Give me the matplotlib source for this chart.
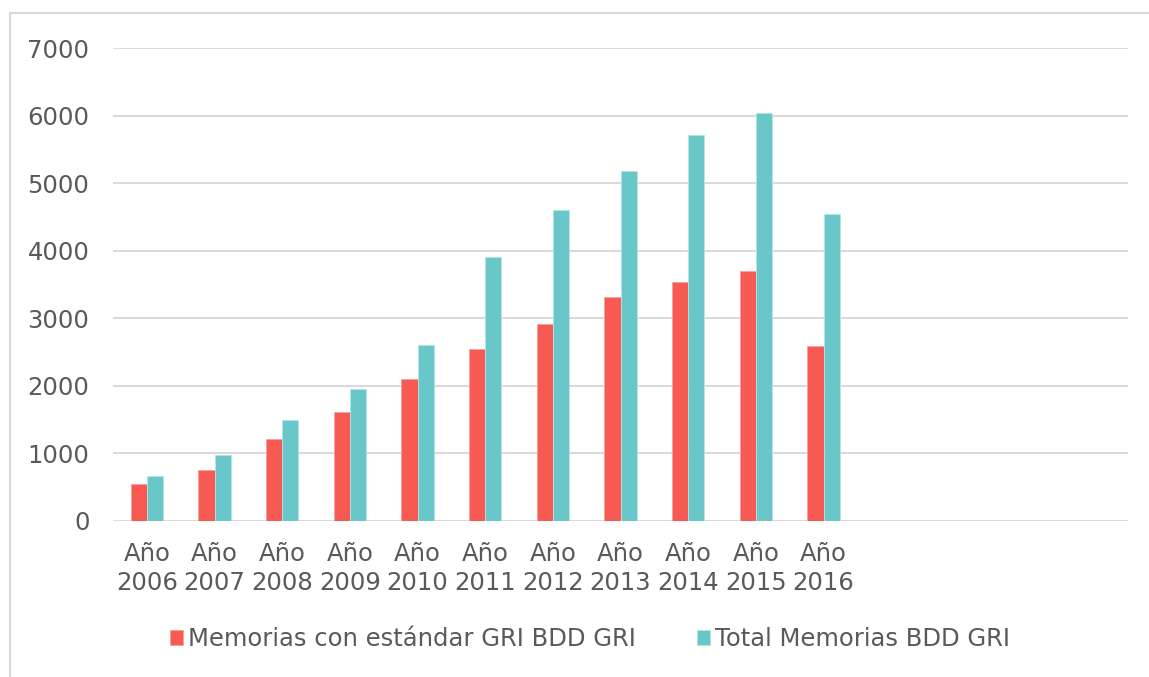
import numpy as np
import matplotlib
matplotlib.use("Agg")
import matplotlib.pyplot as plt
from matplotlib.lines import Line2D

years = ["2006", "2007", "2008", "2009", "2010", "2011",
         "2012", "2013", "2014", "2015", "2016"]
tick_labels = ["Año\n" + y for y in years]
gri_standard = [543, 755, 1214, 1618, 2101, 2545, 2915, 3315, 3532, 3695, 2594]
total_reports = [670, 977, 1490, 1949, 2605, 3907, 4605, 5175, 5708, 6034, 4548]
series_names = ["Memorias con estándar GRI BDD GRI", "Total Memorias BDD GRI"]
n_slots = 15  # the category axis keeps room for empty years

RED = "#F65A53"
TEAL = "#69C7C9"
TEXT = "#595959"
GRID = "#D9D9D9"
FS = 17.5

plt.rcParams["font.family"] = ["DejaVu Sans"]

W, H = 1149, 677
fig = plt.figure(figsize=(W / 100, H / 100), dpi=100)
ax = fig.add_axes([113 / W, 1 - 521 / H, (1128 - 113) / W, (521 - 48) / H])

x = np.arange(len(years))
bw = 0.24
ax.bar(x - bw / 2, gri_standard, bw, color=RED, edgecolor="#F8A09B",
       linewidth=0.6, label=series_names[0], zorder=3)
ax.bar(x + bw / 2, total_reports, bw, color=TEAL, edgecolor="#B5E6E6",
       linewidth=0.6, label=series_names[1], zorder=3)

ax.set_xlim(-0.5, n_slots - 0.5)
ax.set_ylim(0, 7000)
ax.set_yticks(np.arange(0, 7001, 1000))
ax.set_xticks(x)
ax.set_xticklabels(tick_labels, linespacing=1.25)
ax.yaxis.grid(True, color=GRID, linewidth=1.4, zorder=0)
ax.set_axisbelow(True)
for s in ax.spines.values():
    s.set_visible(False)
ax.tick_params(axis="both", length=0, labelsize=FS, labelcolor=TEXT)
ax.tick_params(axis="y", pad=17)
ax.tick_params(axis="x", pad=15)

leg = fig.legend(loc="center", bbox_to_anchor=(0.5135, 1 - 639 / H), ncol=2,
                 frameon=False, fontsize=FS, handlelength=0.55,
                 handleheight=0.6, handletextpad=0.2, columnspacing=2.5)
for t in leg.get_texts():
    t.set_color(TEXT)

# outer chart frame (partially cropped in the reference)
fig.add_artist(Line2D([10 / W, 10 / W], [0, 1 - 13 / H], color=GRID,
                      linewidth=1.5, transform=fig.transFigure))
fig.add_artist(Line2D([10 / W, 1], [1 - 13 / H, 1 - 13 / H], color=GRID,
                      linewidth=1.5, transform=fig.transFigure))

fig.savefig("out.png", dpi=100, facecolor="white")
